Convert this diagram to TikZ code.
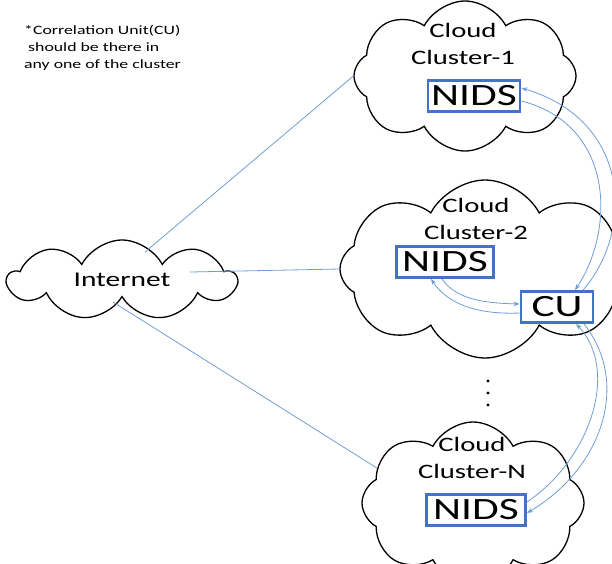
\documentclass[tikz,border=0pt]{standalone}
\usepackage{fontspec}
\setmainfont[FakeStretch=1.4]{Carlito}
\usetikzlibrary{shapes.symbols,arrows.meta}
\definecolor{boxblue}{RGB}{68,114,196}
\definecolor{linkblue}{RGB}{110,158,214}
\tikzset{
  cloudbg/.style={cloud, draw=black, line width=1.3pt, fill=white, cloud puffs=8,
    cloud puff arc=125, cloud ignores aspect, inner sep=0pt},
  idsbox/.style={draw=boxblue, line width=2.8pt, fill=white, minimum height=31pt,
    inner sep=0pt, font=\fontsize{31}{31}\selectfont},
  title/.style={align=center, font=\fontsize{20.5}{27}\selectfont},
  link/.style={draw=linkblue, line width=0.8pt},
  flow/.style={link, -{Stealth[length=6pt,width=4.5pt]}},
}
\begin{document}
\begin{tikzpicture}[x=1pt,y=-1pt]
\useasboundingbox (0,0) rectangle (612,563);
\clip (0,0) rectangle (612,563);

% clouds
\node[cloudbg, cloud puffs=9, minimum width=228, minimum height=80, font=\fontsize{21}{21}\selectfont] (inet) at (122,280) {Internet};
\node[cloudbg, minimum width=222, minimum height=150] (cl1) at (465,76) {};
\node[cloudbg, minimum width=290, minimum height=178] (cl2) at (485,269) {};
\node[cloudbg, minimum width=222, minimum height=162] (clN) at (473,503) {};

\node[title] (t1) at (463,44) {Cloud\\Cluster-1};
\node[title] (t2) at (476,219) {Cloud\\Cluster-2};
\node[title] (tN) at (472,458) {Cloud\\Cluster-N};

% uplinks
\coordinate (in1) at (145,252);
\coordinate (in2) at (190,272);
\coordinate (in3) at (113,302);
\draw[link] (in1) -- (cl1.west);
\draw[link] (in2) -- (cl2.west);
\draw[link] (in3) -- (clN.160);

% detectors
\node[idsbox, minimum width=92] (ids1) at (474,96) {NIDS};
\node[idsbox, minimum width=97] (ids2) at (445,262) {NIDS};
\node[idsbox, minimum width=72] (cu) at (557,307) {CU};
\node[idsbox, minimum width=99] (idsN) at (476,510) {NIDS};

% alerts to and from the CU
\draw[flow] ([xshift=26pt]cu.north) .. controls (635,230) and (630,120) .. ([yshift=8pt]ids1.east);
\draw[flow] ([yshift=-5pt]ids1.east) .. controls (615,125) and (615,230) .. ([xshift=18pt]cu.north);
\draw[flow] ([yshift=-6pt]cu.west) .. controls (470,315) and (445,300) .. ([xshift=-14pt]ids2.south);
\draw[flow] ([xshift=-3pt]ids2.south) .. controls (455,298) and (480,303) .. ([yshift=3pt]cu.west);
\draw[flow] ([xshift=27pt]cu.south) .. controls (632,385) and (600,470) .. ([yshift=-3pt]idsN.east);
\draw[flow] ([yshift=8pt]idsN.east) .. controls (590,460) and (620,370) .. ([xshift=19pt]cu.south);

\foreach \y in {381,393,405}
  \fill (488,\y) circle (1.6);

\node[anchor=north west, align=left, inner sep=0pt, font=\fontsize{12.7}{17}\selectfont] (note) at (24,25)
  {*Correlation Unit(CU)\\ \ should be there in\\any one of the cluster};
\end{tikzpicture}
\end{document}
